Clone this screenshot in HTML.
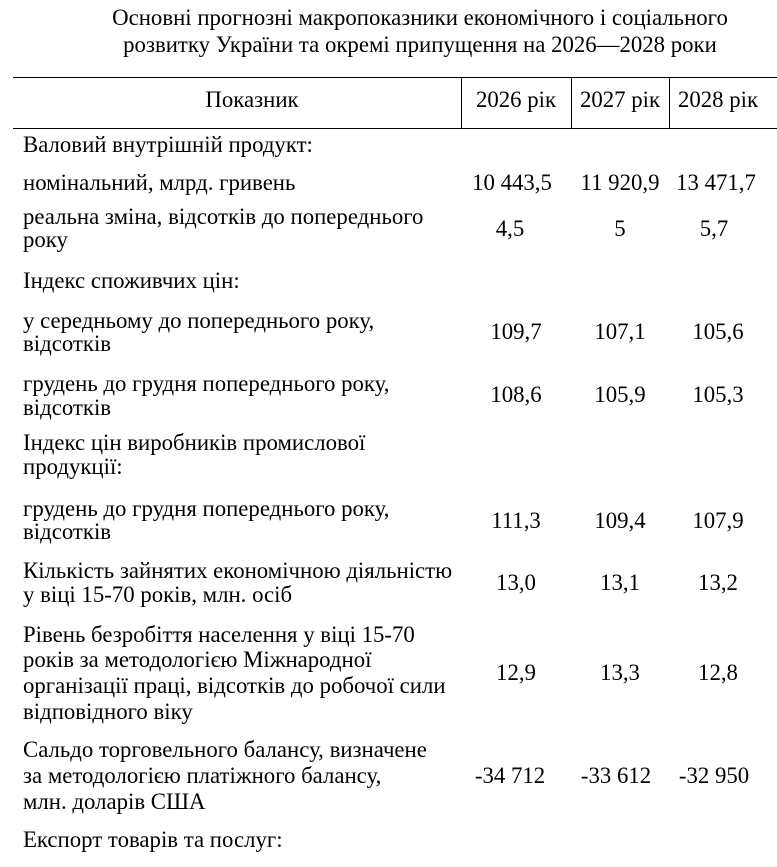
<!DOCTYPE html>
<html><head><meta charset="utf-8"><style>
body{margin:0;width:777px;height:867px;background:#fff;position:relative;overflow:hidden;font-family:"Liberation Serif",serif;font-size:22.8px;color:#000}
.t{position:absolute;line-height:24px;white-space:nowrap}
.c{transform:translateX(-50%)}
.h{position:absolute;background:#000;height:1px}
.v{position:absolute;background:#000;width:1px;top:77px;height:52px}
</style></head><body>
<div class="t c" style="left:420px;top:6px">Основні прогнозні макропоказники економічного і соціального</div>
<div class="t c" style="left:420px;top:33px">розвитку України та окремі припущення на 2026—2028 роки</div>
<div class="h" style="left:13px;right:0;top:77px"></div>
<div class="h" style="left:13px;right:0;top:128px"></div>
<div class="v" style="left:461px"></div>
<div class="v" style="left:571px"></div>
<div class="v" style="left:669px"></div>
<div class="t c" style="left:252px;top:88px">Показник</div>
<div class="t c" style="left:516px;top:88px">2026 рік</div>
<div class="t c" style="left:620px;top:88px">2027 рік</div>
<div class="t c" style="left:718px;top:88px">2028 рік</div>

<div class="t" style="left:23px;top:133px">Валовий внутрішній продукт:</div>
<div class="t" style="left:23px;top:171px">номінальний, млрд. гривень</div>
<div class="t c" style="left:512px;top:171px">10 443,5</div>
<div class="t c" style="left:620px;top:171px">11 920,9</div>
<div class="t c" style="left:716px;top:171px">13 471,7</div>
<div class="t" style="left:23px;top:205px">реальна зміна, відсотків до попереднього</div>
<div class="t" style="left:23px;top:228px">року</div>
<div class="t c" style="left:510px;top:217px">4,5</div>
<div class="t c" style="left:620px;top:217px">5</div>
<div class="t c" style="left:714px;top:217px">5,7</div>
<div class="t" style="left:23px;top:269px">Індекс споживчих цін:</div>
<div class="t" style="left:23px;top:309px">у середньому до попереднього року,</div>
<div class="t" style="left:23px;top:332px">відсотків</div>
<div class="t c" style="left:516px;top:320px">109,7</div>
<div class="t c" style="left:620px;top:320px">107,1</div>
<div class="t c" style="left:718px;top:320px">105,6</div>
<div class="t" style="left:23px;top:372px">грудень до грудня попереднього року,</div>
<div class="t" style="left:23px;top:396px">відсотків</div>
<div class="t c" style="left:516px;top:383px">108,6</div>
<div class="t c" style="left:620px;top:383px">105,9</div>
<div class="t c" style="left:718px;top:383px">105,3</div>
<div class="t" style="left:23px;top:431px">Індекс цін виробників промислової</div>
<div class="t" style="left:23px;top:455px">продукції:</div>
<div class="t" style="left:23px;top:497px">грудень до грудня попереднього року,</div>
<div class="t" style="left:23px;top:520px">відсотків</div>
<div class="t c" style="left:516px;top:509px">111,3</div>
<div class="t c" style="left:620px;top:509px">109,4</div>
<div class="t c" style="left:718px;top:509px">107,9</div>
<div class="t" style="left:23px;top:559px">Кількість зайнятих економічною діяльністю</div>
<div class="t" style="left:23px;top:583px">у віці 15-70 років, млн. осіб</div>
<div class="t c" style="left:516px;top:571px">13,0</div>
<div class="t c" style="left:620px;top:571px">13,1</div>
<div class="t c" style="left:718px;top:571px">13,2</div>
<div class="t" style="left:23px;top:623px">Рівень безробіття населення у віці 15-70</div>
<div class="t" style="left:23px;top:648px">років за методологією Міжнародної</div>
<div class="t" style="left:23px;top:674px">організації праці, відсотків до робочої сили</div>
<div class="t" style="left:23px;top:700px">відповідного віку</div>
<div class="t c" style="left:516px;top:661px">12,9</div>
<div class="t c" style="left:620px;top:661px">13,3</div>
<div class="t c" style="left:718px;top:661px">12,8</div>
<div class="t" style="left:23px;top:738px">Сальдо торговельного балансу, визначене</div>
<div class="t" style="left:23px;top:764px">за методологією платіжного балансу,</div>
<div class="t" style="left:23px;top:790px">млн. доларів США</div>
<div class="t c" style="left:510px;top:764px">-34 712</div>
<div class="t c" style="left:616px;top:764px">-33 612</div>
<div class="t c" style="left:714px;top:764px">-32 950</div>
<div class="t" style="left:23px;top:828px">Експорт товарів та послуг:</div>
</body></html>
